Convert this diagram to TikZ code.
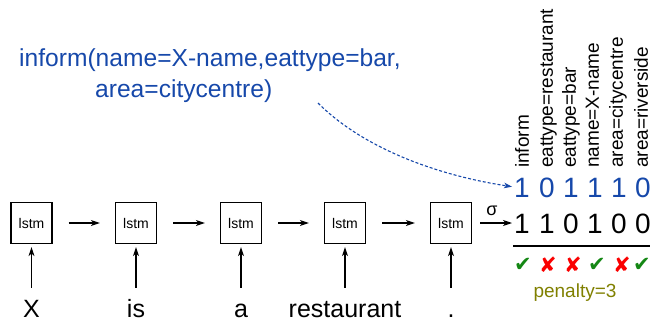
\documentclass[tikz,border=0pt]{standalone}
\usepackage{fontspec}
\setmainfont{Liberation Sans}
\newfontfamily\symfont{DejaVu Sans}
\usetikzlibrary{arrows.meta}

\definecolor{actblue}{RGB}{22,72,170}
\definecolor{okgreen}{RGB}{20,135,20}
\definecolor{badred}{RGB}{250,0,0}
\definecolor{penolive}{RGB}{128,128,0}

\tikzset{
  lstmbox/.style={draw, line width=1.2pt, minimum width=41pt, minimum height=41pt,
    inner sep=0pt, font=\fontsize{14}{16}\selectfont},
  word/.style={inner sep=0pt, anchor=base, text height=18pt, text depth=0pt,
    font=\fontsize{25}{30}\selectfont},
  flow/.style={line width=1.2pt, -{Stealth[length=9pt,width=6pt,inset=2.5pt]}},
  digit/.style={inner sep=0pt, text height=20pt, text depth=0pt,
    font=\fontsize{28}{32}\selectfont},
  slotname/.style={rotate=90, anchor=south west, inner sep=0pt, text depth=0pt,
    font=\fontsize{19}{22}\selectfont},
  actline/.style={font=\fontsize{24.6}{30}\selectfont, text=actblue, inner sep=0pt, anchor=base west},
  verdict/.style={inner sep=0pt, font=\symfont\fontsize{21}{24}\selectfont},
}

\begin{document}
\begin{tikzpicture}[x=1pt,y=-1pt]
\useasboundingbox (0,0) rectangle (651,327);

% dialogue act
\node[actline] (act1) at (19,66) {inform(name=X-name,eattype=bar,};
\node[actline] (act2) at (95,97) {area=citycentre)};
\coordinate (actend) at (318,103);

% LSTM chain
\foreach \i/\x in {1/31.5,2/136,3/241,4/345,5/451}
  \node[lstmbox] (b\i) at (\x,223) {lstm};

% input words
\node[word] (w1) at (31.5,317) {X};
\node[word] (w2) at (136,317) {is};
\node[word] (w3) at (241,317) {a};
\node[word] (w4) at (345,317) {restaurant};
\node[word] (w5) at (451,317) {.};

\foreach \i in {1,...,5}
  \draw[flow, shorten <=11pt, shorten >=3pt] (w\i.north) -- (b\i.south);
\foreach \i/\j in {1/2,2/3,3/4,4/5}
  \draw[flow, shorten <=16pt, shorten >=15pt] (b\i.east) -- (b\j.west);

% slot names, set upwards from their baselines
\foreach \k/\x/\t in {1/529/inform,2/553/eattype=restaurant,3/576/eattype=bar,
                      4/599/name=X-name,5/623/area=citycentre,6/648/area=riverside}
  \node[slotname] (s\k) at (\x,168) {\t};

% target vector and predicted vector
\foreach \k/\x/\u/\d in {1/522/1/1,2/547/0/1,3/571/1/0,4/595/1/1,5/619/1/0,6/643/0/0}{
  \node[digit, text=actblue] (u\k) at (\x,187) {\u};
  \node[digit] (d\k) at (\x,223) {\d};
}

\draw[flow, shorten <=8pt, shorten >=2pt] (b5.east) -- (d1.west);
\node[inner sep=0pt, font=\fontsize{18}{20}\selectfont] (sig) at (492,211) {σ};

\draw[actblue, line width=1.1pt, dash pattern=on 3pt off 2pt,
      -{Stealth[length=8pt,width=5.5pt,inset=2pt]}, shorten >=2pt]
  (actend) .. controls +(45,45) and +(-78,-12) .. (u1.west);

% comparison
\draw[line width=1.5pt] (513,246) -- (650,246);
\node[verdict, text=okgreen] (m1) at (523,265) {✔};
\node[verdict, text=badred]  (m2) at (548,265) {✘};
\node[verdict, text=badred]  (m3) at (573,265) {✘};
\node[verdict, text=okgreen] (m4) at (597,265) {✔};
\node[verdict, text=badred]  (m5) at (622,265) {✘};
\node[verdict, text=okgreen] (m6) at (642,265) {✔};

\node[inner sep=0pt, anchor=base, text=penolive, font=\fontsize{19}{22}\selectfont]
  (pen) at (575,297) {penalty=3};
\end{tikzpicture}
\end{document}
